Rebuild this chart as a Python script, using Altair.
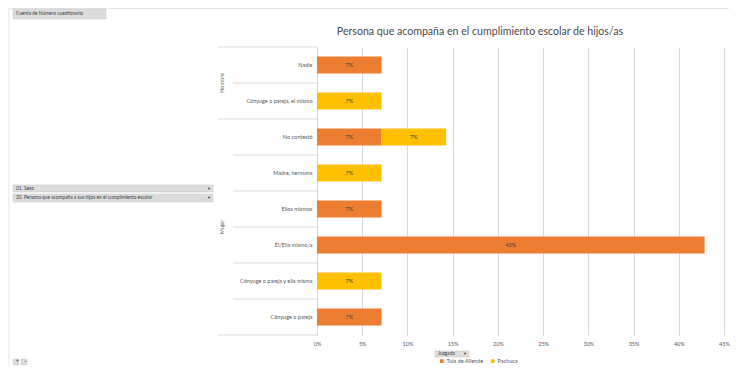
import altair as alt
import pandas as pd

# ---- data ----
rows = ["Nadie", "Cónyuge o pareja, el mismo", "No contestó", "Madre, hermana",
        "Ellos mismos", "Él/Ella mismo/a", "Cónyuge o pareja y ella misma", "Cónyuge o pareja"]
groups = ["Hombre", "Hombre", "Mujer", "Mujer", "Mujer", "Mujer", "Mujer", "Mujer"]
series = ["Tula de Allende", "Pachuca"]
tula = [0.0714, 0, 0.0714, 0, 0.0714, 0.4286, 0, 0.0714]
pachuca = [0, 0.0714, 0.0714, 0.0714, 0, 0, 0.0714, 0]
x_ticks = [0, 0.05, 0.10, 0.15, 0.20, 0.25, 0.30, 0.35, 0.40, 0.45]
colors = ["#ED7D31", "#FFC000"]
title_text = "Persona que acompaña en el cumplimiento escolar de hijos/as"

FONT = "Lato"
GRAY = "#595959"
LINE = "#d9d9d9"
W, H = 407, 288

recs = []
for i, r in enumerate(rows):
    for k, (s, vals) in enumerate(zip(series, [tula, pachuca])):
        if vals[i] > 0:
            recs.append({"row": r, "grupo": groups[i], "serie": s, "ord": k, "value": vals[i]})
df = pd.DataFrame(recs)

yscale = alt.Scale(domain=rows, paddingInner=0, paddingOuter=0)
xscale = alt.Scale(domain=[0, 0.45], nice=False, zero=True)

base = alt.Chart(df)

bars = base.mark_bar(height={"band": 0.47}).encode(
    x=alt.X("value:Q", stack="zero", scale=xscale, title=None,
            axis=alt.Axis(values=x_ticks, format=".0%", labelFontSize=5.5, labelColor=GRAY,
                          labelFont=FONT, labelPadding=6, ticks=False, domain=False,
                          labelFlush=False,
                          grid=True, gridColor=LINE, gridWidth=1)),
    y=alt.Y("row:N", sort=rows, scale=yscale, title=None,
            axis=alt.Axis(labelFontSize=5.5, labelColor=GRAY, labelFont=FONT, labelPadding=5,
                          ticks=False, domain=True, domainColor=LINE, grid=False, labelLimit=200)),
    color=alt.Color("serie:N", scale=alt.Scale(domain=series, range=colors),
                    legend=alt.Legend(title=None, orient="none", legendX=122, legendY=311,
                                      direction="horizontal", symbolType="square", symbolSize=14,
                                      symbolStrokeWidth=0, labelFontSize=5.5, labelFont=FONT,
                                      labelColor=GRAY, columnPadding=6, padding=0, labelOffset=2)),
    order=alt.Order("ord:Q", sort="ascending"),
)

labels = base.transform_stack(
    stack="value", groupby=["row"], as_=["x0", "x1"],
    sort=[alt.SortField("ord", order="ascending")]
).transform_calculate(
    mid="(datum.x0 + datum.x1) / 2", lbl="format(datum.value, '.0%')"
).mark_text(fontSize=5.5, font=FONT, color="#404040").encode(
    x=alt.X("mid:Q", scale=xscale, title=None),
    y=alt.Y("row:N", sort=rows, scale=yscale, title=None),
    text="lbl:N",
)

# row separators in the category area
full_rows, short_rows = [], []
for i, r in enumerate(rows):
    if i == 0 or groups[i] != groups[i - 1]:
        full_rows.append(r)
    else:
        short_rows.append(r)

sep_full = alt.Chart(pd.DataFrame({"row": full_rows})).mark_rule(color=LINE, strokeWidth=1).encode(
    y=alt.Y("row:N", sort=rows, scale=yscale, bandPosition=0, title=None),
    x=alt.value(-99), x2=alt.value(0))
sep_bottom = alt.Chart(pd.DataFrame({"row": [rows[-1]]})).mark_rule(color=LINE, strokeWidth=1).encode(
    y=alt.Y("row:N", sort=rows, scale=yscale, bandPosition=1, title=None),
    x=alt.value(-99), x2=alt.value(0))
sep_short = alt.Chart(pd.DataFrame({"row": short_rows})).mark_rule(color=LINE, strokeWidth=1).encode(
    y=alt.Y("row:N", sort=rows, scale=yscale, bandPosition=0, title=None),
    x=alt.value(-84), x2=alt.value(0))

# group labels (centre of each group's span)
glabels = []
seen = []
for g in groups:
    if g not in seen:
        seen.append(g)
for g in seen:
    idx = [i for i, gg in enumerate(groups) if gg == g]
    glabels.append({"grupo": g, "row": rows[idx[0] + len(idx) // 2 - 1]})
grp = alt.Chart(pd.DataFrame(glabels)).mark_text(
    angle=270, fontSize=5.5, font=FONT, color=GRAY).encode(
    y=alt.Y("row:N", sort=rows, scale=yscale, bandPosition=1, title=None),
    x=alt.value(-95), text="grupo:N")

one = pd.DataFrame({"k": [0]})

title = alt.Chart(one).mark_text(
    text=title_text, fontSize=10.6, font=FONT, color="#4a4a4a", align="center", baseline="middle"
).encode(x=alt.value(163), y=alt.value(-15))

def button(text, x1, x2, y1, y2, arrow=None, size=4.8):
    r = alt.Chart(one).mark_rect(fill="#dcdcdc", stroke="#c6c6c6", strokeWidth=0.5).encode(
        x=alt.value(x1), x2=alt.value(x2), y=alt.value(y1), y2=alt.value(y2))
    t = alt.Chart(one).mark_text(align="left", baseline="middle", fontSize=size, font=FONT,
                                 color="#404040", text=text).encode(
        x=alt.value(x1 + 3), y=alt.value((y1 + y2) / 2))
    out = [r, t]
    if arrow:
        out.append(alt.Chart(one).mark_text(align="center", baseline="middle", fontSize=4,
                                            color="#404040", text=arrow).encode(
            x=alt.value(x2 - 4), y=alt.value((y1 + y2) / 2)))
    return out

decor = []
decor += button("Cuenta de Número cuestionario", -304, -211, -38, -28)
decor += button("01. Sexo", -304, -104, 138, 145, "▼")
decor += button("20. Persona que acompaña a sus hijos en el cumplimiento escolar", -304, -104, 147, 155, "▼")
decor += button("Juzgado", 118, 152, 304, 310, "▼")
decor += button("+", -304, -298, 312, 318)
decor += button("−", -296, -290, 312, 318)

frame_v = alt.Chart(one).mark_rule(color="#e6e6e6").encode(
    x=alt.value(-308), y=alt.value(-39), y2=alt.value(320))
frame_h = alt.Chart(one).mark_rule(color="#e6e6e6").encode(
    x=alt.value(-308), x2=alt.value(W + 5), y=alt.value(-38.5))

chart = alt.layer(
    frame_v, frame_h, bars, labels, sep_full, sep_short, sep_bottom, grp, title, *decor
).properties(
    width=W, height=H,
    padding={"left": 309, "top": 39, "right": 722 - 309 - W, "bottom": 32},
    autosize=alt.AutoSizeParams(type="none"),
    background="white",
).configure_view(strokeWidth=0)

chart.save("out.html", embed_options={"renderer": "svg", "actions": False})
